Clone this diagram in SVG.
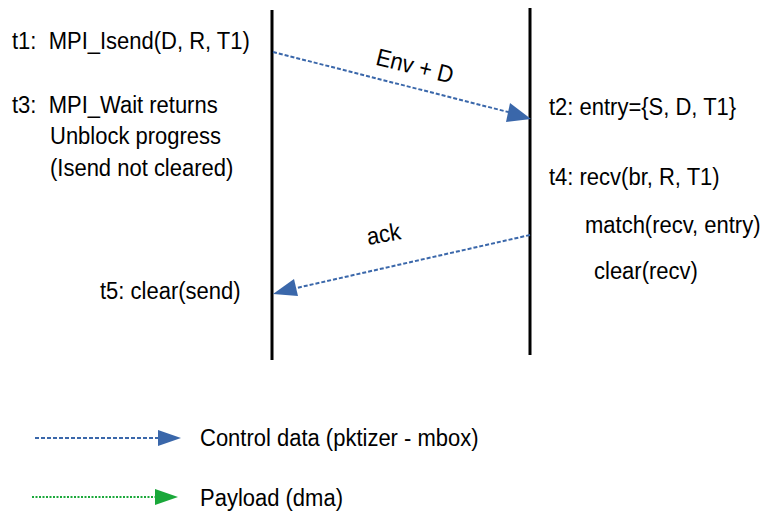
<svg xmlns="http://www.w3.org/2000/svg" width="763" height="514" viewBox="0 0 763 514">
<defs>
<style>
text{font-family:"Liberation Sans",Arial,sans-serif;font-size:22px;fill:#000}
.life{stroke:#000;stroke-width:3}
.ctrl{stroke:#3a67aa;stroke-width:2;stroke-dasharray:4 2;fill:none}
.pay{stroke:#1aa83a;stroke-width:2;stroke-dasharray:2 1.5;fill:none}
</style>
</defs>
<g id="lifelines">
<line class="life" x1="272" y1="10" x2="272" y2="360"/>
<line class="life" x1="530" y1="8" x2="530" y2="355"/>
</g>
<g id="connectors">
<line class="ctrl" x1="273" y1="52" x2="512" y2="113"/>
<path d="M510,103 L531,119 L506,122 z" fill="#3a67aa"/>
<line class="ctrl" x1="530" y1="235" x2="292" y2="289"/>
<path d="M294,279 L273,294 L298,296 z" fill="#3a67aa"/>
<text transform="translate(413,74) rotate(14) scale(1,1.1)" text-anchor="middle">Env + D</text>
<text transform="translate(385,242) rotate(-10) scale(1,1.1)" text-anchor="middle">ack</text>
</g>
<g id="sender">
<text transform="translate(12,49) scale(1,1.1)" xml:space="preserve">t1:  MPI_Isend(D, R, T1)</text>
<text transform="translate(12,113) scale(1,1.1)" xml:space="preserve">t3:  MPI_Wait returns</text>
<text transform="translate(50,144) scale(1,1.1)">Unblock progress</text>
<text transform="translate(50,176) scale(1,1.1)">(Isend not cleared)</text>
<text transform="translate(100,299) scale(1,1.1)">t5: clear(send)</text>
</g>
<g id="receiver">
<text transform="translate(549,115) scale(1,1.1)">t2: entry={S, D, T1}</text>
<text transform="translate(549,185) scale(1,1.1)">t4: recv(br, R, T1)</text>
<text transform="translate(585,233) scale(1,1.1)">match(recv, entry)</text>
<text transform="translate(594,279) scale(1,1.1)">clear(recv)</text>
</g>
<g id="legend">
<line class="ctrl" x1="35" y1="438" x2="160" y2="438"/>
<path d="M158,430 L181,438 L158,446 z" fill="#3a67aa"/>
<text transform="translate(200,446) scale(1,1.1)">Control data (pktizer - mbox)</text>
<line class="pay" x1="32" y1="497" x2="156" y2="497"/>
<path d="M155,489 L178,497 L155,505 z" fill="#1aa83a"/>
<text transform="translate(200,506) scale(1,1.1)">Payload (dma)</text>
</g>
</svg>
